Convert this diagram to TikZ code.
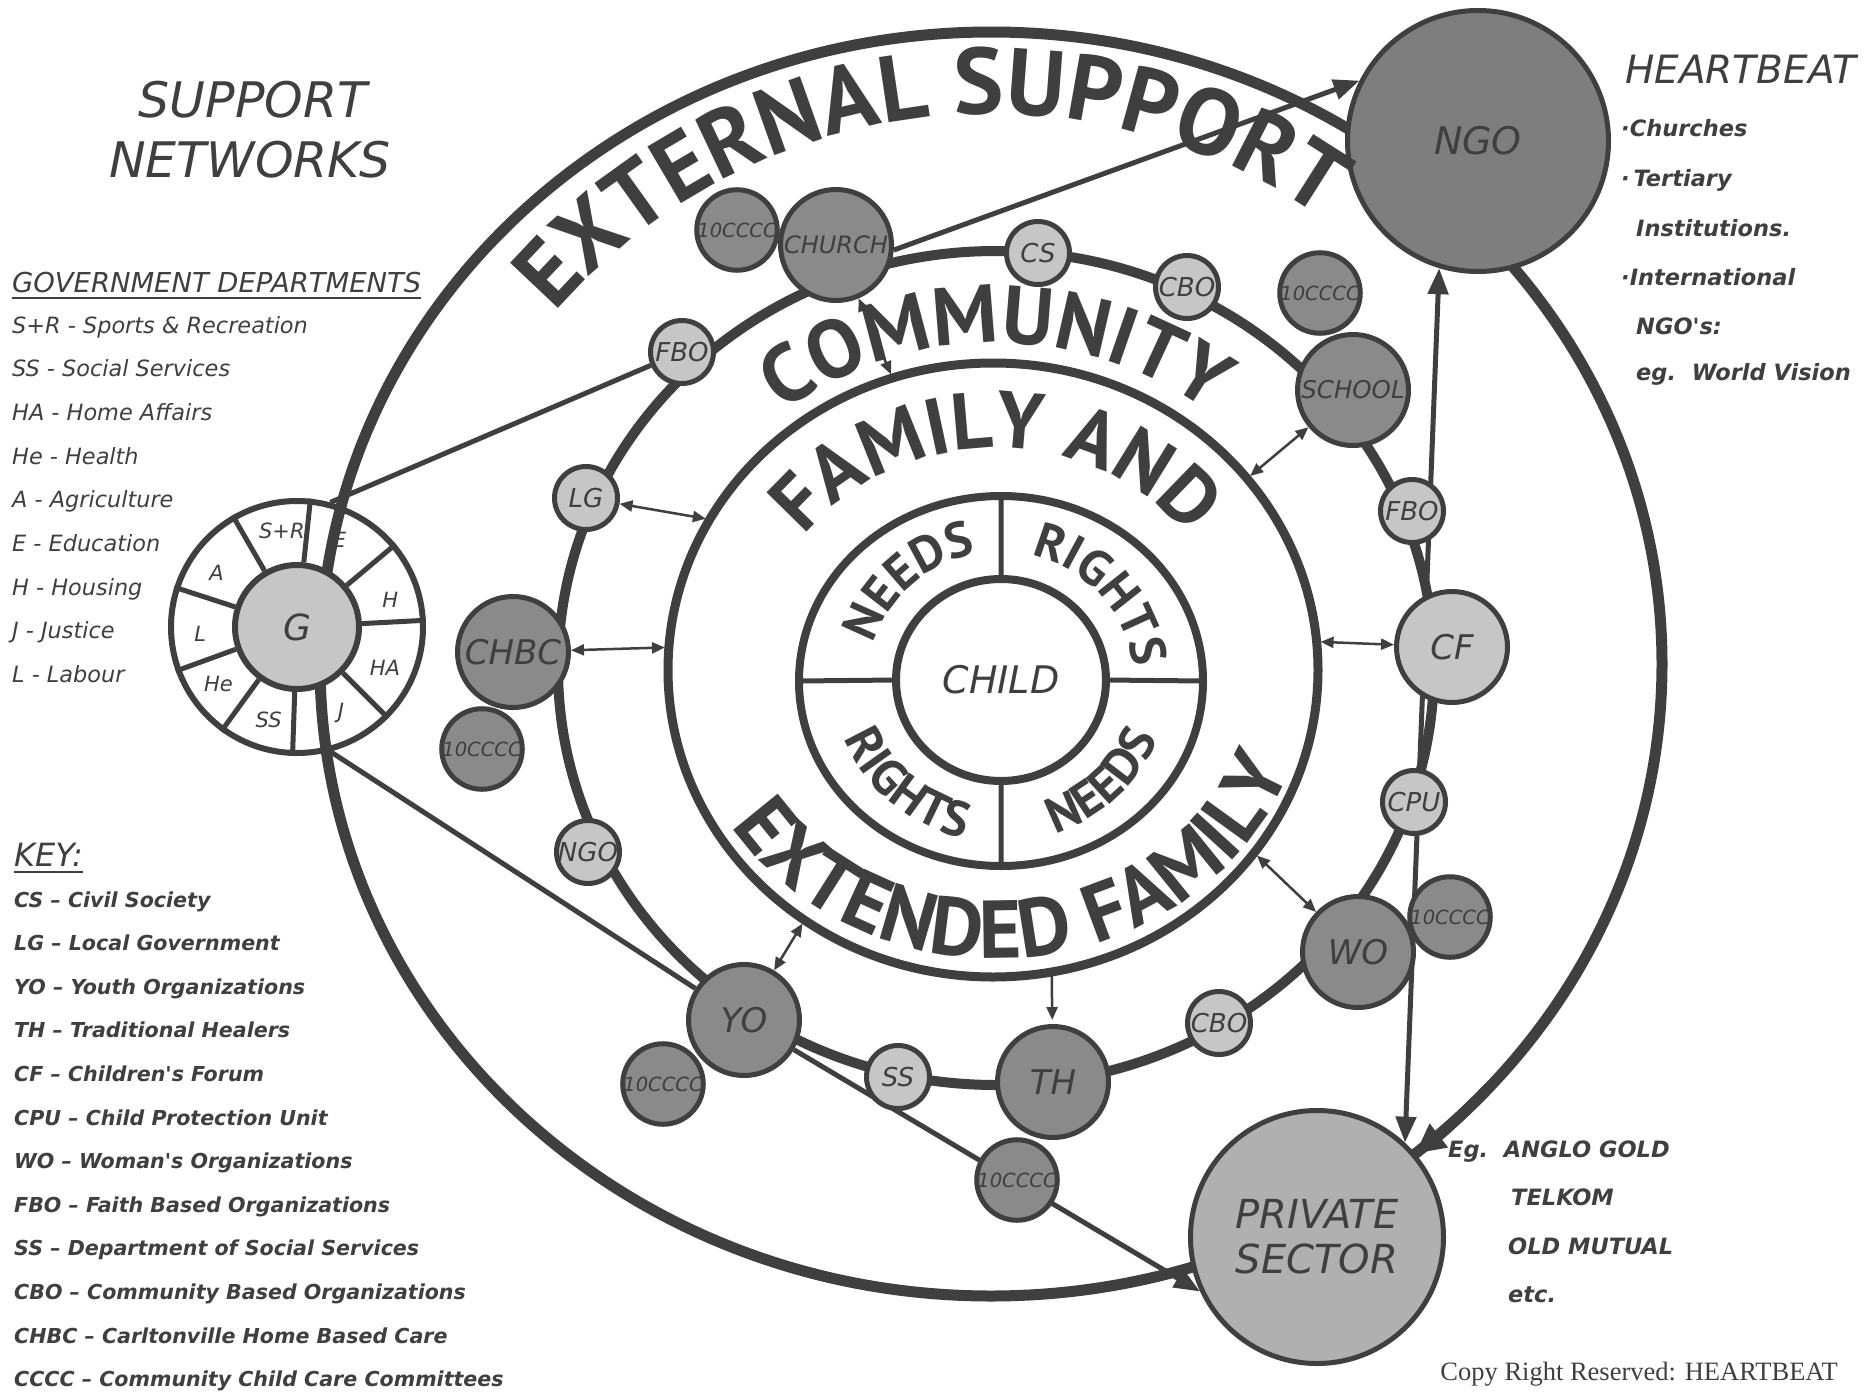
\documentclass[tikz,border=0pt]{standalone}
\usepackage{fontspec}
\setmainfont{DejaVu Sans}
\newfontfamily\handfont{DejaVu Sans}[ItalicFont={DejaVu Sans Oblique},BoldItalicFont={DejaVu Sans Bold Oblique}]
\newfontfamily\bigfont{PT Sans}
\newfontfamily\serifont{Liberation Serif}
\usetikzlibrary{shapes.geometric,arrows.meta,decorations.text,calc}

\pgfdeclarelayer{paper}
\pgfdeclarelayer{under}
\pgfsetlayers{paper,under,main}

\definecolor{ink}{HTML}{3F3F3F}
\definecolor{darkgrey}{HTML}{8A8A8A}
\definecolor{lightgrey}{HTML}{C6C6C6}
\definecolor{ngogrey}{HTML}{7E7E7E}
\definecolor{psgrey}{HTML}{B0B0B0}

\newcommand\hand[1]{\handfont\itshape\fontsize{#1}{#1}\selectfont}
\newcommand\handb[1]{\handfont\bfseries\itshape\fontsize{#1}{#1}\selectfont}

\tikzset{
  ring/.style={ellipse, draw=ink, inner sep=0pt, outer sep=0pt},
  link/.style={draw=ink, line width=5pt},
  tip/.style={-{Triangle[length=26pt,width=20pt]}},
  tie/.style={draw=ink, line width=2.5pt, {Triangle[length=13pt,width=11pt]}-{Triangle[length=13pt,width=11pt]}, shorten >=4pt},
  hub/.style={circle, draw=ink, line width=5pt, fill=darkgrey, minimum size=111pt, inner sep=0pt, text=ink, font=\hand{34}},
  spot/.style={circle, draw=ink, line width=5pt, fill=lightgrey, minimum size=63pt, inner sep=0pt, text=ink, font=\hand{26}},
  tencc/.style={circle, draw=ink, line width=5pt, fill=darkgrey, minimum size=77pt, inner sep=0pt, text=ink, font=\hand{19.5}},
  legend/.style={anchor=base west, inner sep=0pt, text=ink, font=\hand{22.4}},
  keyline/.style={anchor=base west, inner sep=0pt, text=ink, font=\handb{20.6}},
  wedge/.style={inner sep=0pt, text=ink, font=\hand{21}},
  arctext/.style 2 args={decorate, decoration={text along path, text align=center, text color=ink,
    text={|\bigfont\bfseries\fontsize{#1}{#1}\selectfont|#2}}}
}

\begin{document}
\begin{tikzpicture}[x=1pt,y=-1pt]
\begin{pgfonlayer}{paper}
  \fill[white] (0,0) rectangle (1872,1392);
\end{pgfonlayer}
\useasboundingbox (0,0) rectangle (1872,1392);

% rings
\node[ring, line width=11pt, minimum width=1342pt, minimum height=1264pt] (outer) at (991,664) {};
\node[ring, line width=10pt, minimum width=876pt, minimum height=834pt] (comm) at (996,668) {};
\node[ring, line width=9pt, minimum width=650pt, minimum height=614pt] (fam) at (993,670) {};
\node[ring, line width=8pt, minimum width=404pt, minimum height=370pt] (rights) at (1001,681) {};
\node[ring, line width=8pt, minimum width=210pt, minimum height=202pt, text=ink, font=\hand{38}] (child) at (1001,680) {CHILD};
\draw[ink, line width=5pt] (rights.north) -- (child.north) (rights.south) -- (child.south)
  (rights.west) -- (child.west) (rights.east) -- (child.east);

% government wheel
\node[circle, draw=ink, line width=6pt, minimum size=252pt, inner sep=0pt] (gwheel) at (297,627) {};
\node[circle, draw=ink, line width=6pt, fill=lightgrey, minimum size=124pt, inner sep=0pt, text=ink, font=\hand{36}] (G) at (297,627) {G};
\foreach \a in {162,120,84,40,3,-45,-92,-126,-160}
  \draw[ink, line width=5pt] (G.\a) -- (gwheel.\a);
\foreach \lbl/\a [count=\i] in {S+R/99, E/64, H/16, HA/-25, J/-63, SS/-107, He/-144, L/-176, A/146}
  \node[wedge] (w\i) at ($(G.center)+(\a:97pt)$) {\lbl};

% community members
\node[tencc] (cA) at (737,230) {10CCCC};
\node[tencc] (cB) at (1320,293) {10CCCC};
\node[tencc] (cC) at (1450,917) {10CCCC};
\node[tencc] (cD) at (1017,1180) {10CCCC};
\node[tencc] (cE) at (663,1084) {10CCCC};
\node[tencc] (cF) at (482,749) {10CCCC};
\node[hub, font=\hand{24}] (church) at (836,245) {CHURCH};
\node[hub, font=\hand{24.5}] (school) at (1353,390) {SCHOOL};
\node[hub, fill=lightgrey] (cf) at (1452,647) {CF};
\node[hub] (wo) at (1358,952) {WO};
\node[hub] (th) at (1053,1082) {TH};
\node[hub] (yo) at (744,1020) {YO};
\node[hub] (chbc) at (513,652) {CHBC};
\node[spot] (cs) at (1038,253) {CS};
\node[spot] (cboA) at (1187,287) {CBO};
\node[spot] (fboB) at (1412,511) {FBO};
\node[spot] (cpu) at (1414,802) {CPU};
\node[spot] (cboB) at (1219,1023) {CBO};
\node[spot] (ss) at (898,1077) {SS};
\node[spot] (ngoS) at (588,852) {NGO};
\node[spot] (lg) at (586,498) {LG};
\node[spot] (fboA) at (682,352) {FBO};
\node[circle, draw=ink, line width=5pt, fill=ngogrey, minimum size=261pt, inner sep=0pt, text=ink, font=\hand{38}] (ngo) at (1478,141) {NGO};
\node[circle, draw=ink, line width=5pt, fill=psgrey, minimum size=253pt, inner sep=0pt, text=ink, align=center,
  font=\handfont\itshape\fontsize{40}{45}\selectfont] (ps) at (1317,1237) {PRIVATE\\SECTOR};

\begin{pgfonlayer}{under}
  \draw[link] (gwheel.75) -- (fboA);
  \draw[link] (gwheel.-75) -- (yo);
  \draw[link, tip] (church.-5) -- (ngo.153);
  \draw[link, tip] (yo) -- (ps.205);
  \draw[link, {Triangle[length=26pt,width=20pt]}-{Triangle[length=26pt,width=20pt]}] (ps.47) -- (ngo.253);
\end{pgfonlayer}
\draw[ink, line width=11pt, -{Triangle[length=30pt,width=28pt]}] ($(outer.center)+(-42:671pt and 632pt)$)
  arc[start angle=-42, end angle=-50.8, x radius=671pt, y radius=632pt];

% links to the family ring
\draw[tie] (lg) -- (fam.152);
\draw[tie] (chbc) -- (fam.176);
\draw[tie] (church) -- (fam.109);
\draw[tie] (school) -- (fam.37);
\draw[tie] (cf) -- (fam.5);
\draw[tie] (wo) -- (fam.-35);
\draw[tie] (yo) -- (fam.233);
\draw[tie, -{Triangle[length=13pt,width=11pt]}] (fam.-79) -- (th);

% curved titles
\begin{scope}[shift={(991,694)}]
  \path[arctext={94}{EXTERNAL SUPPORT}] (160:578pt and 580pt) arc[start angle=160, end angle=34, x radius=578pt, y radius=580pt];
\end{scope}
\begin{scope}[shift={(comm.center)}]
  \path[arctext={82}{COMMUNITY}] (150:345pt and 325pt) arc[start angle=150, end angle=30, x radius=345pt, y radius=325pt];
\end{scope}
\begin{scope}[shift={(996,676)}]
  \path[arctext={80}{FAMILY AND}] (165:243pt and 228pt) arc[start angle=165, end angle=15, x radius=243pt, y radius=228pt];
  \path[arctext={82}{EXTENDED FAMILY}] (195:312pt and 282pt) arc[start angle=195, end angle=358, x radius=312pt, y radius=282pt];
\end{scope}
\begin{scope}[shift={(child.center)}]
  \path[arctext={50}{NEEDS}] (177.5:133pt and 128pt) arc[start angle=177.5, end angle=87.5, x radius=133pt, y radius=128pt];
  \path[arctext={50}{RIGHTS}] (86:133pt and 128pt) arc[start angle=86, end angle=-4, x radius=133pt, y radius=128pt];
  \path[arctext={50}{RIGHTS}] (184:168pt and 162pt) arc[start angle=184, end angle=274, x radius=168pt, y radius=162pt];
  \path[arctext={50}{NEEDS}] (269:168pt and 162pt) arc[start angle=269, end angle=359, x radius=168pt, y radius=162pt];
\end{scope}

% left legend
\node[anchor=base, inner sep=0pt, text=ink, font=\hand{49}] (title1) at (253,117) {SUPPORT};
\node[anchor=base, inner sep=0pt, text=ink, font=\hand{49}] (title2) at (250,177) {NETWORKS};
\node[legend, font=\hand{27.4}] (govhead) at (12,292) {GOVERNMENT DEPARTMENTS};
\draw[ink, line width=2pt] ([yshift=-6pt]govhead.base west) -- ([yshift=-6pt]govhead.base east);
\foreach \txt [count=\i from 0] in {S+R - Sports \& Recreation, SS - Social Services, HA - Home Affairs,
    He - Health, A - Agriculture, E - Education, H - Housing, J - Justice, L - Labour}
  \node[legend] (gov\i) at (12,{333+43.7*\i}) {\txt};
\node[legend, font=\hand{32}] (keyhead) at (14,866) {KEY:};
\draw[ink, line width=2pt] ([yshift=-6pt]keyhead.base west) -- ([yshift=-6pt]keyhead.base east);
\foreach \txt [count=\i from 0] in {CS – Civil Society, LG – Local Government, YO – Youth Organizations,
    TH – Traditional Healers, CF – Children's Forum, CPU – Child Protection Unit, WO – Woman's Organizations,
    FBO – Faith Based Organizations, SS – Department of Social Services, CBO – Community Based Organizations,
    CHBC – Carltonville Home Based Care, CCCC – Community Child Care Committees}
  \node[keyline] (key\i) at (14,{907+43.6*\i}) {\txt};

% right legend
\node[anchor=base west, inner sep=0pt, text=ink, font=\hand{39}] (hb) at (1625,83) {HEARTBEAT};
\node[keyline, font=\handb{22.5}] (hb1) at (1621,136) {·Churches};
\node[keyline, font=\handb{22.5}] (hb2) at (1621,186) {·\,Tertiary};
\node[keyline, font=\handb{22.5}] (hb3) at (1636,236) {Institutions.};
\node[keyline, font=\handb{22.5}] (hb4) at (1621,285) {·International};
\node[keyline, font=\handb{22.5}] (hb5) at (1636,334) {NGO's:};
\node[keyline, font=\handb{22.5}] (hb6) at (1636,380) {eg.\ \ World Vision};
\node[keyline, font=\handb{22.5}] (eg1) at (1448,1157) {Eg.\ \ ANGLO GOLD};
\node[keyline, font=\handb{22.5}] (eg2) at (1511,1205) {TELKOM};
\node[keyline, font=\handb{22.5}] (eg3) at (1508,1254) {OLD MUTUAL};
\node[keyline, font=\handb{22.5}] (eg4) at (1508,1302) {etc.};
\node[anchor=base east, inner sep=0pt, text=ink, font=\serifont\fontsize{26.5}{26.5}\selectfont] (copy) at (1838,1380) {Copy Right Reserved: HEARTBEAT};
\end{tikzpicture}
\end{document}
